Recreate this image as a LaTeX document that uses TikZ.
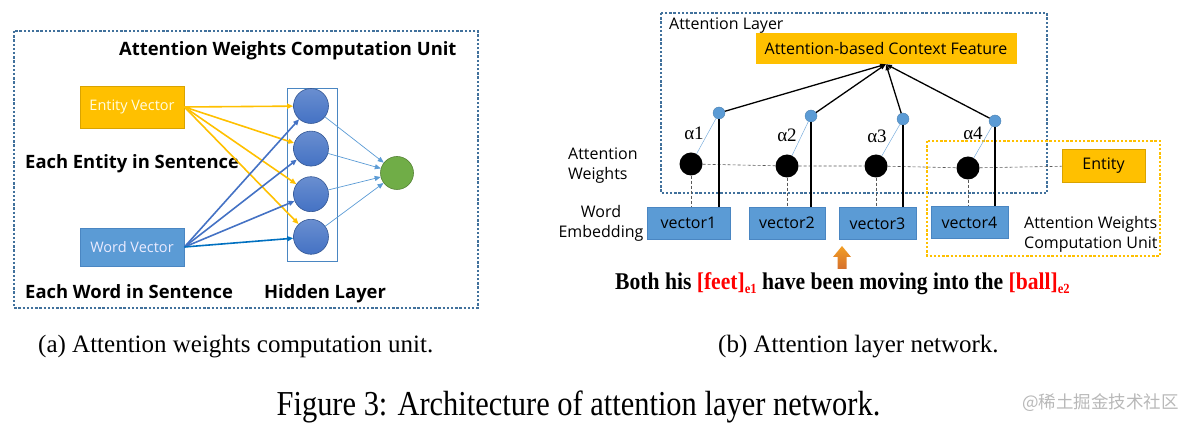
\documentclass[tikz,border=0pt]{standalone}
\usepackage{fontspec}
\setmainfont{Liberation Serif}
\setsansfont{Open Sans}
\newfontfamily\cjkfont{Noto Sans CJK SC}
\usepackage{tikz}
\usetikzlibrary{positioning, arrows.meta, calc}

\definecolor{gold}{HTML}{FFC000}
\definecolor{goldline}{HTML}{D9A300}
\definecolor{boxblue}{HTML}{5B9BD5}
\definecolor{boxblueline}{HTML}{4A86C2}
\definecolor{hidblue}{HTML}{4472C4}
\definecolor{frameblue}{HTML}{41719C}
\definecolor{leafgreen}{HTML}{70AD47}
\definecolor{arrowblue}{HTML}{0070C0}
\definecolor{wordred}{HTML}{FF0000}
\definecolor{orangearrow}{HTML}{ED7D31}

\newcommand{\pxfont}[1]{\fontsize{#1}{#1}\selectfont}
\newcommand{\entword}[2]{\textcolor{wordred}{[#1]\raisebox{-4pt}{\fontsize{14}{14}\selectfont #2}}}

\begin{document}
\begin{tikzpicture}
		[x=1pt, y=-1pt,
		dotframe/.style={line width=2.6pt, dash pattern=on 2.4pt off 1.8pt},
		boldtxt/.style={inner sep=0pt, font=\sffamily\bfseries\pxfont{18.4}},
		txt/.style={inner sep=0pt, font=\sffamily\fontsize{16}{20}\selectfont},
		hid/.style={circle, draw=hidblue!75!black, line width=0.6pt, top color=hidblue!80!white, bottom color=hidblue, minimum size=35pt, inner sep=0pt},
		vbox/.style={rectangle, fill=boxblue, draw=boxblueline, line width=0.8pt, minimum height=32pt, font=\sffamily\pxfont{16}},
		wgt/.style={circle, fill=black, minimum size=23pt, inner sep=0pt},
		tipdot/.style={circle, fill=boxblue, draw=boxblue!80!black, line width=0.3pt, minimum size=12pt, inner sep=0pt},
		alpha/.style={inner sep=0pt, font=\pxfont{19}},
		yarrow/.style={draw=gold, line width=1.6pt, -{Triangle[length=6pt, width=5pt]}},
		barrow/.style={draw=hidblue, line width=1.6pt, -{Triangle[length=6pt, width=5pt]}},
		tarrow/.style={draw=boxblue, line width=0.7pt, -{Triangle[length=6pt, width=5pt]}},
		feed/.style={line width=1.3pt, -{Triangle[length=6pt, width=4pt]}},
		dashlink/.style={draw=black!65, line width=0.6pt, dash pattern=on 3pt off 2pt}]
		\useasboundingbox (0,0) rectangle (1179,427);

		% (a) nodes %
		\draw[dotframe, draw=frameblue] (14,31) rectangle (478,308);
		\node[boldtxt, anchor=west] (unit) at (119,51) {Attention Weights Computation Unit};
		\node[rectangle, fill=gold, draw=goldline, line width=0.8pt, minimum width=104pt, minimum height=42pt, font=\sffamily\pxfont{14.5}, text=yellow!12!white] (ev) at (132,107) {Entity Vector};
		\node[rectangle, fill=boxblue, draw=boxblueline, line width=0.8pt, minimum width=104pt, minimum height=38pt, font=\sffamily\pxfont{14.5}, text=blue!8!white] (wv) at (132,247) {Word Vector};
		\node[boldtxt, anchor=west] (ent s) at (25,164) {Each Entity in Sentence};
		\node[boldtxt, anchor=west] (word s) at (25,292) {Each Word in Sentence};
		\node[draw=boxblueline, line width=0.8pt, minimum width=50pt, minimum height=173pt] (hl) at (312,174.5) {};
		\node[hid] (h1) at (311,106) {};
		\node[hid, below=7pt of h1] (h2) {};
		\node[hid, below=10pt of h2] (h3) {};
		\node[hid, below=7pt of h3] (h4) {};
		\node[circle, fill=leafgreen, draw=leafgreen!75!black, line width=0.6pt, minimum size=33pt, inner sep=0pt] (out) at (397,173) {};
		\node[boldtxt] (hl txt) at (325,294) {Hidden Layer};

		% (a) edges %
		\foreach \h in {h1,h2,h3,h4}
			\draw[yarrow] (ev.east) -- (\h);
		\foreach \h in {h1,h2,h3}
			\draw[barrow] (wv.east) -- (\h);
		\draw[barrow, draw=arrowblue] (wv.east) -- (h4);
		\foreach \h in {h1,h2,h3,h4}
			\draw[tarrow] (\h) -- (out);

		% (b) nodes %
		\draw[dotframe, draw=frameblue, line width=2.2pt] (661,13) rectangle (1047,193);
		\draw[dotframe, draw=gold] (927,141) rectangle (1160,256);
		\node[txt, anchor=west] (layer) at (669,26) {Attention Layer};
		\node[rectangle, fill=gold, minimum width=261pt, minimum height=31pt, font=\sffamily\pxfont{16}] (cf) at (886,48.5) {Attention-based Context Feature};
		\node[vbox, minimum width=83pt] (v1) at (688.5,223) {vector1};
		\node[vbox, minimum width=76pt] (v2) at (787,223) {vector2};
		\node[vbox, minimum width=77pt] (v3) at (877.5,223.5) {vector3};
		\node[vbox, minimum width=77pt] (v4) at (969.5,222.5) {vector4};
		\node[wgt] (b1) at (691,164) {};
		\node[wgt] (b2) at (787,166) {};
		\node[wgt] (b3) at (876,166) {};
		\node[wgt] (b4) at (968,168) {};
		\node[tipdot] (s1) at (719,113) {};
		\node[tipdot] (s2) at (811,116) {};
		\node[tipdot] (s3) at (903,119) {};
		\node[tipdot] (s4) at (995,121) {};
		\node[alpha] (a1) at (694,133) {α1};
		\node[alpha] (a2) at (787,135) {α2};
		\node[alpha] (a3) at (877,136) {α3};
		\node[alpha] (a4) at (973,133) {α4};
		\node[rectangle, fill=gold, draw=goldline, line width=0.8pt, minimum width=83pt, minimum height=33pt, font=\sffamily\pxfont{16}] (ent) at (1103.5,165.5) {Entity};
		\node[txt, anchor=west, align=left] (weights) at (568,166) {Attention\\Weights};
		\node[txt, align=center] (embed) at (601,223) {Word\\Embedding};
		\node[txt, anchor=west, align=left] (awcu) at (1024,234.5) {Attention Weights\\Computation Unit};
		\shade[top color=orangearrow!75!yellow, bottom color=orangearrow!90!black] (842,246) -- (851,257) -- (846.5,257) -- (846.5,269) -- (837.5,269) -- (837.5,257) -- (833,257) -- cycle;
		\node[anchor=base west, inner sep=0pt] (sent) at (615,290) {\scalebox{0.9}[1]{\pxfont{24}\bfseries Both his \entword{feet}{e1} have been moving into the \entword{ball}{e2}}};

		% (b) edges %
		\draw[dashlink] (b1) -- (b2) -- (b3) -- (b4) -- (ent);
		\foreach \i in {1,...,4} {
			\draw[dashlink] (b\i) -- (b\i |- v\i.north);
			\draw[line width=1.3pt] (s\i) -- (s\i |- v\i.north);
			\draw[draw=boxblue!80, line width=0.5pt] (b\i) -- (s\i);
			\draw[feed] (s\i) -- (cf.south);
		}

		% captions %
		\node[anchor=base west, inner sep=0pt, font=\pxfont{25}] (cap a) at (38,353) {(a) Attention weights computation unit.};
		\node[anchor=base west, inner sep=0pt, font=\pxfont{25}] (cap b) at (718,353) {(b) Attention layer network.};
		\node[anchor=base, inner sep=0pt] (fig) at (578.5,416) {\scalebox{0.87}[1]{\pxfont{35}Figure 3: Architecture of attention layer network.}};
		\node[anchor=base west, inner sep=0pt, text=black!28, font=\cjkfont\pxfont{17.5}] (mark) at (1022,409) {@稀土掘金技术社区};
\end{tikzpicture}
\end{document}
